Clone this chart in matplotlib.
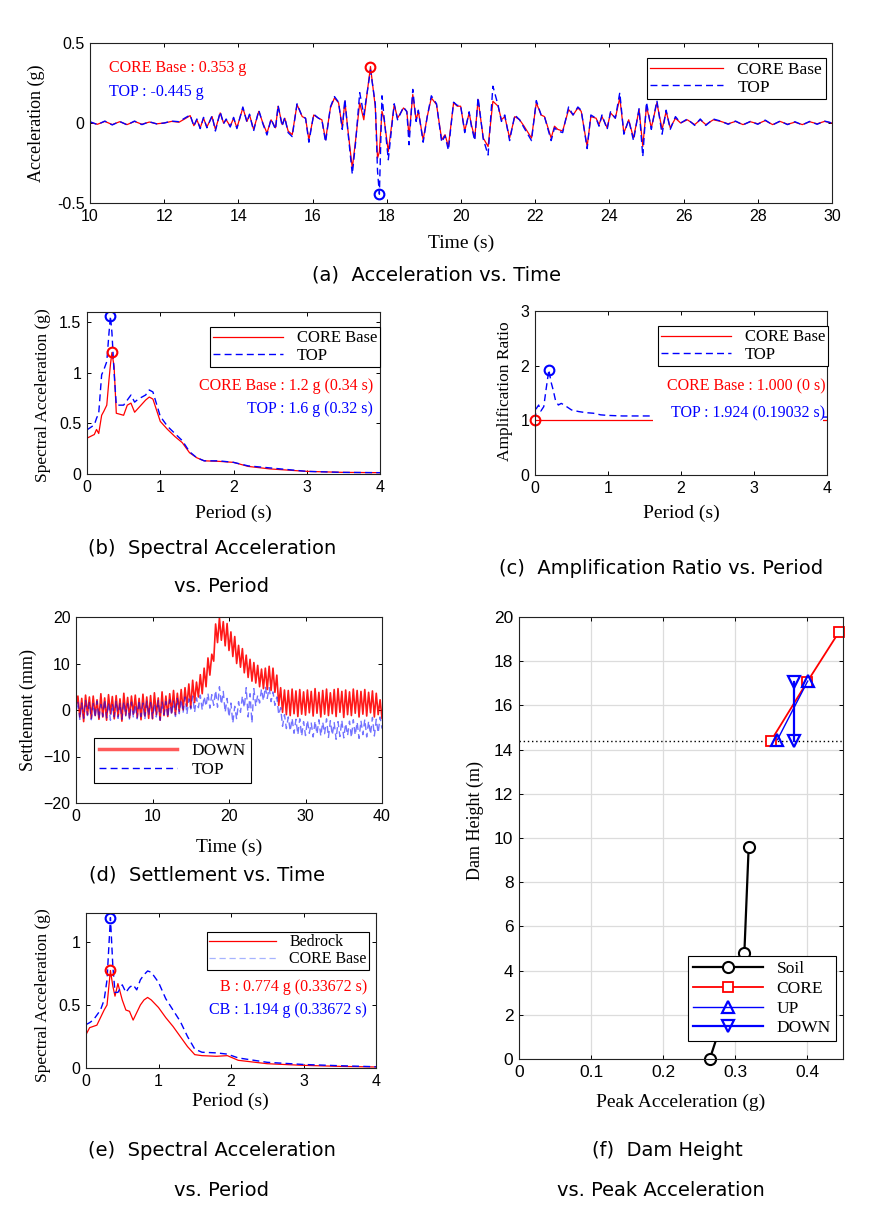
import numpy as np
import matplotlib
matplotlib.use("Agg")
import matplotlib.pyplot as plt
from matplotlib.patches import Rectangle

plt.rcParams["font.family"] = "Liberation Sans"
SERIF = "Liberation Serif"
CAPTION = "DejaVu Sans"

W, H = 872, 1225

# ---------------- (a) acceleration vs time ----------------
acc_time = [10.0, 10.2, 10.4, 10.6, 10.8, 11.0, 11.2, 11.4, 11.6, 11.8,
            12.0, 12.2, 12.4, 12.55, 12.7, 12.8, 12.88, 12.97, 13.06, 13.15,
            13.29, 13.38, 13.51, 13.6, 13.67, 13.78, 13.87, 13.96, 14.12, 14.23,
            14.3, 14.41, 14.55, 14.66, 14.77, 14.88, 15.0, 15.07, 15.18, 15.25,
            15.34, 15.45, 15.58, 15.72, 15.81, 15.9, 16.03, 16.16, 16.25, 16.35,
            16.48, 16.59, 16.7, 16.8, 16.87, 16.95, 17.07, 17.16, 17.27, 17.38,
            17.56, 17.69, 17.75, 17.8, 17.87, 17.93, 18.04, 18.2, 18.29, 18.45,
            18.54, 18.6, 18.7, 18.79, 18.85, 18.98, 19.09, 19.2, 19.34, 19.48,
            19.57, 19.66, 19.8, 19.9, 19.99, 20.1, 20.22, 20.28, 20.37, 20.46,
            20.6, 20.73, 20.86, 21.0, 21.09, 21.18, 21.31, 21.45, 21.58, 21.7,
            21.9, 22.03, 22.16, 22.25, 22.43, 22.52, 22.61, 22.74, 22.9, 23.02,
            23.15, 23.24, 23.4, 23.5, 23.64, 23.72, 23.8, 23.94, 24.03, 24.16,
            24.28, 24.39, 24.52, 24.65, 24.8, 24.9, 25.0, 25.13, 25.28, 25.42,
            25.53, 25.64, 25.78, 25.92, 26.1, 26.3, 26.45, 26.6, 26.8, 27.0,
            27.2, 27.4, 27.6, 27.8, 28.0, 28.2, 28.4, 28.6, 28.8, 29.0,
            29.2, 29.4, 29.6, 29.8, 30.0]
acc_core = [0.005, -0.008, 0.01, -0.01, 0.008, -0.01, 0.01, -0.008, 0.006, -0.005,
            0.0, 0.01, 0.005, 0.025, 0.046, -0.017, 0.02, -0.03, 0.03, -0.025,
            0.04, -0.04, 0.063, 0.0, 0.02, -0.02, 0.03, -0.03, 0.094, 0.01,
            0.05, -0.04, 0.073, 0.0, -0.063, 0.02, -0.03, 0.105, -0.01, 0.03,
            -0.05, -0.073, 0.115, 0.04, 0.03, -0.105, 0.05, 0.03, 0.02, -0.105,
            0.094, 0.157, 0.126, -0.03, 0.136, -0.04, -0.283, -0.105, 0.126, 0.02,
            0.353, 0.10, -0.22, -0.18, 0.073, 0.02, -0.178, 0.115, 0.03, 0.094,
            0.073, -0.084, 0.178, 0.02, 0.073, -0.105, 0.04, 0.157, 0.115, -0.105,
            -0.073, -0.147, 0.126, 0.105, 0.105, -0.05, 0.063, -0.01, -0.094, 0.147,
            -0.094, -0.147, 0.136, 0.105, 0.02, 0.04, -0.094, 0.04, 0.02, -0.02,
            -0.094, 0.126, 0.05, 0.04, -0.094, -0.02, -0.04, -0.05, 0.084, 0.05,
            0.094, 0.073, -0.147, 0.04, 0.03, -0.01, 0.04, -0.03, 0.063, 0.03,
            0.157, -0.063, 0.02, -0.094, 0.084, -0.147, 0.105, -0.03, 0.126, -0.04,
            0.073, -0.03, 0.03, 0.0, 0.02, -0.01, 0.02, -0.01, 0.02, 0.01,
            -0.005, 0.01, -0.01, 0.008, -0.005, 0.015, -0.01, 0.01, -0.008, 0.005,
            -0.01, 0.008, -0.005, 0.01, 0.0]
acc_top = [0.008, -0.01, 0.012, -0.012, 0.01, -0.012, 0.012, -0.01, 0.008, -0.006,
           0.0, 0.012, 0.008, 0.03, 0.05, -0.02, 0.025, -0.035, 0.035, -0.03,
           0.045, -0.05, 0.07, -0.005, 0.025, -0.025, 0.035, -0.035, 0.10, 0.005,
           0.055, -0.05, 0.08, -0.005, -0.075, 0.025, -0.04, 0.11, -0.02, 0.035,
           -0.06, -0.085, 0.12, 0.04, 0.03, -0.12, 0.055, 0.03, 0.02, -0.12,
           0.10, 0.165, 0.13, -0.04, 0.15, -0.05, -0.32, -0.12, 0.19, 0.05,
           0.33, 0.12, -0.30, -0.445, 0.17, 0.03, -0.23, 0.12, 0.02, 0.10,
           0.07, -0.136, 0.21, 0.01, 0.08, -0.12, 0.04, 0.17, 0.12, -0.12,
           -0.08, -0.17, 0.13, 0.11, 0.11, -0.06, 0.07, -0.02, -0.11, 0.16,
           -0.10, -0.20, 0.23, 0.11, 0.01, 0.05, -0.11, 0.05, 0.02, -0.03,
           -0.11, 0.14, 0.05, 0.04, -0.11, -0.03, -0.05, -0.06, 0.10, 0.05,
           0.10, 0.08, -0.16, 0.05, 0.03, -0.02, 0.05, -0.04, 0.07, 0.03,
           0.19, -0.07, 0.02, -0.11, 0.09, -0.21, 0.13, -0.04, 0.14, -0.07,
           0.08, -0.04, 0.04, 0.0, 0.025, -0.015, 0.025, -0.015, 0.025, 0.012,
           -0.008, 0.012, -0.012, 0.01, -0.008, 0.018, -0.012, 0.012, -0.01, 0.008,
           -0.012, 0.01, -0.008, 0.012, 0.0]
acc_peak_core = (17.56, 0.353)
acc_peak_top = (17.8, -0.445)

# ---------------- (b) spectral acceleration, CORE Base / TOP ----------------
sa_period = [0.0, 0.1, 0.13, 0.16, 0.2, 0.23, 0.27, 0.3, 0.32, 0.34,
             0.37, 0.4, 0.45, 0.5, 0.55, 0.6, 0.65, 0.7, 0.8, 0.85,
             0.9, 1.0, 1.1, 1.2, 1.3, 1.4, 1.5, 1.6, 1.8, 2.0,
             2.2, 2.5, 3.0, 3.5, 4.0]
sa_core = [0.354, 0.39, 0.44, 0.40, 0.58, 0.62, 0.68, 0.93, 1.08, 1.20,
           1.06, 0.60, 0.59, 0.58, 0.68, 0.70, 0.61, 0.65, 0.73, 0.76,
           0.74, 0.52, 0.44, 0.37, 0.31, 0.21, 0.16, 0.13, 0.125, 0.115,
           0.075, 0.05, 0.026, 0.016, 0.013]
sa_top = [0.436, 0.485, 0.55, 0.60, 0.98, 1.03, 1.11, 1.39, 1.56, 1.40,
          1.00, 0.68, 0.68, 0.68, 0.73, 0.78, 0.71, 0.74, 0.78, 0.83,
          0.81, 0.57, 0.47, 0.40, 0.33, 0.22, 0.16, 0.13, 0.13, 0.115,
          0.08, 0.06, 0.026, 0.016, 0.013]
sa_peak_core = (0.34, 1.2)
sa_peak_top = (0.32, 1.56)

# ---------------- (c) amplification ratio ----------------
ar_period = [0.0, 0.02, 0.05, 0.08, 0.12, 0.15, 0.19, 0.22, 0.25, 0.28,
             0.32, 0.36, 0.4, 0.5, 0.6, 0.7, 0.8, 0.9, 1.0, 1.2,
             1.4, 1.6, 2.0, 3.0, 4.0]
ar_core = [1.0, 1.0, 1.0, 1.0, 1.0, 1.0, 1.0, 1.0, 1.0, 1.0,
           1.0, 1.0, 1.0, 1.0, 1.0, 1.0, 1.0, 1.0, 1.0, 1.0,
           1.0, 1.0, 1.0, 1.0, 1.0]
ar_top = [1.0, 1.22, 1.28, 1.17, 1.25, 1.55, 1.924, 1.70, 1.55, 1.37,
          1.28, 1.31, 1.28, 1.19, 1.16, 1.14, 1.13, 1.10, 1.09, 1.08,
          1.08, 1.08, 1.07, 1.06, 1.06]
ar_peak_core = (0.0, 1.0)
ar_peak_top = (0.19032, 1.924)

# ---------------- (d) settlement vs time (0.25 s samples) ----------------
set_down = [0.5, 3.0, -1.5, 2.5, -2.5, 3.2, -1.0, 2.8,
            -1.8, 3.0, -1.2, 2.2, -2.0, 3.5, -1.5, 2.6,
            -2.2, 3.3, -0.8, 2.9, -1.9, 3.1, -1.4, 2.4,
            -2.4, 3.6, -1.1, 2.7, -1.7, 3.0, -0.9, 3.2,
            -1.6, 2.5, -2.1, 3.4, -1.3, 2.8, -1.8, 3.1,
            -1.9, 3.7, -1.0, 2.6, -2.2, 3.9, -1.2, 3.0,
            -1.4, 3.5, -0.6, 4.2, -1.0, 3.6, -0.3, 4.4,
            0.0, 4.8, 0.8, 5.6, 0.5, 6.4, 1.6, 6.0,
            2.8, 7.6, 3.5, 9.0, 5.0, 11.2, 7.5, 12.0,
            10.5, 18.5, 14.5, 19.8, 15.0, 19.0, 13.8, 18.6,
            12.8, 16.8, 11.5, 15.8, 10.0, 13.9, 9.2, 13.2,
            8.0, 11.8, 7.0, 10.9, 6.2, 10.2, 5.8, 9.6,
            5.0, 8.8, 4.6, 9.0, 4.4, 9.4, 4.2, 9.0,
            3.8, 7.5, 1.0, 4.8, -0.5, 4.3, -1.0, 4.2,
            -1.2, 4.5, -0.8, 4.1, -1.4, 4.4, -0.9, 3.9,
            -1.1, 4.3, -0.6, 4.0, -1.3, 4.6, -0.7, 3.8,
            -1.5, 4.2, -0.9, 4.5, -1.2, 3.7, -0.8, 4.4,
            -1.4, 4.6, -0.5, 4.0, -1.6, 4.3, -1.0, 3.9,
            -1.2, 4.5, -0.7, 4.2, -1.5, 4.0, -0.9, 4.4,
            -1.3, 3.8, -0.6, 4.1, -1.5, 3.6, -1.0, 2.2,
            -1.8]
set_top = [-0.5, 1.8, -2.0, 1.5, -1.8, 2.0, -1.2, 1.6,
           -2.1, 1.4, -1.6, 1.9, -1.9, 1.2, -1.4, 2.2,
           -1.7, 1.6, -2.2, 1.3, -1.5, 2.0, -1.8, 1.5,
           -2.0, 1.8, -1.3, 1.4, -2.1, 1.7, -1.6, 1.2,
           -1.9, 2.1, -1.4, 1.5, -2.0, 1.9, -1.2, 1.6,
           -1.8, 1.4, -1.5, 2.0, -2.2, 1.7, -1.0, 1.8,
           -1.6, 2.2, -1.1, 1.9, -1.4, 2.5, -0.8, 2.3,
           -0.6, 2.8, -0.9, 2.4, 0.2, 3.0, -0.5, 2.6,
           0.5, 3.2, 0.0, 2.9, 0.8, 3.6, 0.4, 3.3,
           1.0, 4.2, 0.6, 5.0, 1.2, 4.0, -0.5, 2.5,
           -1.5, 1.5, -2.8, 0.8, -2.0, 1.8, -0.5, 3.0,
           0.5, 4.8, -1.5, 3.5, -2.8, 4.6, 0.8, 3.2,
           1.5, 4.5, 2.0, 5.0, 2.5, 4.8, 1.8, 3.9,
           1.0, 2.8, -1.0, 0.5, -3.5, -1.0, -4.0, -1.5,
           -4.5, -1.8, -5.0, -2.0, -5.3, -1.9, -5.6, -2.5,
           -5.5, -2.2, -5.0, -2.8, -5.8, -2.4, -5.2, -2.1,
           -5.6, -2.6, -5.1, -1.9, -5.9, -2.3, -5.4, -2.7,
           -6.3, -2.5, -5.7, -2.2, -6.0, -2.9, -5.5, -2.4,
           -5.9, -2.1, -5.4, -2.6, -6.1, -2.3, -5.3, -2.0,
           -5.8, -2.4, -5.2, -1.6, -5.6, -2.0, -4.9, -1.5,
           -4.0]
set_time = np.arange(len(set_down)) * 0.25  # sampling grid

# ---------------- (e) spectral acceleration, Bedrock / CORE Base ----------------
sb_period = [0.0, 0.05, 0.1, 0.15, 0.2, 0.25, 0.29, 0.337, 0.37, 0.4,
             0.44, 0.5, 0.55, 0.6, 0.65, 0.7, 0.75, 0.8, 0.85, 0.9,
             1.0, 1.1, 1.2, 1.3, 1.4, 1.5, 1.6, 1.8, 1.95, 2.1,
             2.5, 3.0, 3.5, 4.0]
sb_bedrock = [0.265, 0.32, 0.33, 0.34, 0.40, 0.46, 0.50, 0.774, 0.65, 0.57,
              0.67, 0.54, 0.46, 0.45, 0.38, 0.44, 0.50, 0.54, 0.56, 0.54,
              0.48, 0.40, 0.33, 0.25, 0.17, 0.106, 0.098, 0.093, 0.098, 0.061,
              0.034, 0.021, 0.013, 0.008]
sb_core = [0.344, 0.36, 0.38, 0.42, 0.46, 0.54, 0.70, 1.194, 0.81, 0.60,
           0.60, 0.66, 0.60, 0.64, 0.66, 0.62, 0.70, 0.74, 0.77, 0.76,
           0.68, 0.55, 0.46, 0.37, 0.25, 0.15, 0.125, 0.12, 0.11, 0.08,
           0.045, 0.028, 0.018, 0.01]
sb_peak_bed = (0.33672, 0.774)
sb_peak_core = (0.33672, 1.194)

# ---------------- (f) dam height vs peak acceleration ----------------
soil_acc = [0.265, 0.313, 0.319]
soil_h = [0.0, 4.8, 9.6]
core_acc = [0.350, 0.400, 0.444]
core_h = [14.4, 17.05, 19.3]
up_acc = [0.359, 0.401]
up_h = [14.45, 17.1]
down_acc = [0.3815, 0.3815]
down_h = [14.37, 17.04]
water_level = 14.37


def add_axes_px(fig, l, t, r, b):
    return fig.add_axes([l / W, 1 - b / H, (r - l) / W, (b - t) / H])


def ftext(fig, x, y, s, **kw):
    fig.text(x / W, 1 - y / H, s, **kw)


def style(ax, size=11.5):
    ax.tick_params(direction="in", top=True, right=True, length=3,
                   width=0.7, labelsize=size, pad=4)
    for sp in ax.spines.values():
        sp.set_linewidth(0.8)
        sp.set_color("#222222")


def legend_px(ax, fig, x, y, handles, labels, fs=12, **kw):
    leg = ax.legend(handles, labels, loc="upper left",
                    bbox_to_anchor=(x / W, 1 - y / H),
                    bbox_transform=fig.transFigure, borderaxespad=0,
                    fancybox=False, framealpha=1, edgecolor="black",
                    prop={"family": SERIF, "size": fs}, **kw)
    leg.get_frame().set_linewidth(0.8)
    return leg


RED = (1, 0, 0)
BLUE = (0, 0, 1)
DASH = (0, (5, 3))

fig = plt.figure(figsize=(W / 100, H / 100), dpi=100)

# (a)
ax = add_axes_px(fig, 90, 43, 832, 203)
l1, = ax.plot(acc_time, acc_core, color=RED, lw=0.9)
l2, = ax.plot(acc_time, acc_top, color=BLUE, lw=1.0, ls=DASH)
ax.plot(*acc_peak_core, "o", mfc="none", mec=RED, mew=1.5, ms=7)
ax.plot(*acc_peak_top, "o", mfc="none", mec=BLUE, mew=1.5, ms=7)
ax.set_xlim(10, 30)
ax.set_ylim(-0.5, 0.5)
ax.set_xticks(range(10, 31, 2))
ax.set_yticks([-0.5, 0, 0.5], ["-0.5", "0", "0.5"])
style(ax)
legend_px(ax, fig, 647, 58, [l1, l2], ["CORE Base", "TOP"], fs=12.5,
          handlelength=4.2, borderpad=0.2, labelspacing=0.1)
ftext(fig, 109, 68, "CORE Base : 0.353 g", color=RED, family=SERIF,
      fontsize=11.5, va="center")
ftext(fig, 109, 92, "TOP : -0.445 g", color=BLUE, family=SERIF,
      fontsize=11.5, va="center")
ftext(fig, 36, 123, "Acceleration (g)", family=SERIF, fontsize=13,
      rotation=90, ha="center", va="center")
ftext(fig, 461, 243, "Time (s)", family=SERIF, fontsize=14,
      ha="center", va="center")

# (b)
ax = add_axes_px(fig, 87, 312, 380, 474)
l1, = ax.plot(sa_period, sa_core, color=RED, lw=0.9)
l2, = ax.plot(sa_period, sa_top, color=BLUE, lw=1.0, ls=DASH)
ax.plot(*sa_peak_core, "o", mfc="none", mec=RED, mew=1.5, ms=7)
ax.plot(*sa_peak_top, "o", mfc="none", mec=BLUE, mew=1.5, ms=7)
ax.set_xlim(0, 4)
ax.set_ylim(0, 1.6)
ax.set_xticks(range(0, 5))
ax.set_yticks([0, 0.5, 1, 1.5], ["0", "0.5", "1", "1.5"])
style(ax)
legend_px(ax, fig, 210, 327, [l1, l2], ["CORE Base", "TOP"], fs=12,
          handlelength=4.2, borderpad=0.2, labelspacing=0.1)
ftext(fig, 373, 386, "CORE Base : 1.2 g (0.34 s)", color=RED, family=SERIF,
      fontsize=11.5, ha="right", va="center")
ftext(fig, 373, 409, "TOP : 1.6 g (0.32 s)", color=BLUE, family=SERIF,
      fontsize=11.5, ha="right", va="center")
ftext(fig, 43, 395, "Spectral Acceleration (g)", family=SERIF, fontsize=12.5,
      rotation=90, ha="center", va="center")
ftext(fig, 233, 513, "Period (s)", family=SERIF, fontsize=14,
      ha="center", va="center")

# (c)
ax = add_axes_px(fig, 535, 311, 827, 475)
l1, = ax.plot(ar_period, ar_core, color=RED, lw=0.9)
l2, = ax.plot(ar_period, ar_top, color=BLUE, lw=1.0, ls=DASH)
ax.plot(*ar_peak_core, "o", mfc="none", mec=RED, mew=1.5, ms=7, clip_on=False)
ax.plot(*ar_peak_top, "o", mfc="none", mec=BLUE, mew=1.5, ms=7)
ax.set_xlim(0, 4)
ax.set_ylim(0, 3)
ax.set_xticks(range(0, 5))
ax.set_yticks(range(0, 4))
style(ax)
# white background of the annotation block hides the lines beneath it
ax.add_patch(Rectangle((1.62, 0.93), 2.33, 0.95, facecolor="white",
                       edgecolor="none", zorder=4))
legend_px(ax, fig, 658, 326, [l1, l2], ["CORE Base", "TOP"], fs=12,
          handlelength=4.2, borderpad=0.2, labelspacing=0.1)
ax.text(3.98, 1.62, "CORE Base : 1.000 (0 s)", color=RED, family=SERIF,
        fontsize=11.5, ha="right", va="center", zorder=5)
ax.text(3.98, 1.12, "TOP : 1.924 (0.19032 s)", color=BLUE, family=SERIF,
        fontsize=11.5, ha="right", va="center", zorder=5)
ftext(fig, 505, 391, "Amplification Ratio", family=SERIF, fontsize=12.5,
      rotation=90, ha="center", va="center")
ftext(fig, 681, 513, "Period (s)", family=SERIF, fontsize=14,
      ha="center", va="center")

# (d)
ax = add_axes_px(fig, 76, 617, 382, 803)
l1, = ax.plot(set_time, set_down, color=RED, lw=1.2, alpha=0.9)
l2, = ax.plot(set_time, set_top, color=BLUE, lw=1.0, ls=DASH, alpha=0.55)
ax.set_xlim(0, 40)
ax.set_ylim(-20, 20)
ax.set_xticks(range(0, 41, 10))
ax.set_yticks(range(-20, 21, 10))
style(ax)
h1, = ax.plot([], [], color=(1, 0.35, 0.35), lw=2.5)
h2, = ax.plot([], [], color=BLUE, lw=1.0, ls=DASH)
legend_px(ax, fig, 94, 738, [h1, h2], ["DOWN", "TOP"], fs=12.5,
          handlelength=4.5, borderpad=0.3, labelspacing=0.15)
ftext(fig, 28, 710, "Settlement (mm)", family=SERIF, fontsize=13,
      rotation=90, ha="center", va="center")
ftext(fig, 229, 847, "Time (s)", family=SERIF, fontsize=14,
      ha="center", va="center")

# (e)
ax = add_axes_px(fig, 86, 913, 376, 1068)
l1, = ax.plot(sb_period, sb_bedrock, color=RED, lw=0.9)
l2, = ax.plot(sb_period, sb_core, color=BLUE, lw=1.0, ls=DASH)
ax.plot(*sb_peak_bed, "o", mfc="none", mec=RED, mew=1.5, ms=7)
ax.plot(*sb_peak_core, "o", mfc="none", mec=BLUE, mew=1.5, ms=7)
ax.set_xlim(0, 4)
ax.set_ylim(0, 1.23)
ax.set_xticks(range(0, 5))
ax.set_yticks([0, 0.5, 1], ["0", "0.5", "1"])
style(ax)
h2, = ax.plot([], [], color=(0.65, 0.7, 1.0), lw=0.9, ls=DASH)
legend_px(ax, fig, 207, 932, [l1, h2], ["Bedrock", "CORE Base"], fs=11.5,
          handlelength=4.2, borderpad=0.15, labelspacing=0.05)
ftext(fig, 367, 987, "B : 0.774 g (0.33672 s)", color=RED, family=SERIF,
      fontsize=11.5, ha="right", va="center")
ftext(fig, 367, 1010, "CB : 1.194 g (0.33672 s)", color=BLUE, family=SERIF,
      fontsize=11.5, ha="right", va="center")
ftext(fig, 43, 995, "Spectral Acceleration (g)", family=SERIF, fontsize=12.5,
      rotation=90, ha="center", va="center")
ftext(fig, 230, 1101, "Period (s)", family=SERIF, fontsize=14,
      ha="center", va="center")

# (f)
ax = add_axes_px(fig, 519, 617, 843, 1059)
ax.grid(True, color="#dcdcdc", lw=0.9)
ax.set_axisbelow(True)
ax.axhline(water_level, color="black", lw=1.0, ls=(0, (1, 2)))
hs, = ax.plot(soil_acc, soil_h, color="black", lw=1.6, marker="o",
              mfc="white", mec="black", mew=1.5, ms=8, clip_on=False)
hc, = ax.plot(core_acc, core_h, color=RED, lw=1.3, marker="s",
              mfc="white", mec=RED, mew=1.3, ms=6.5, clip_on=False)
hu, = ax.plot(up_acc, up_h, color=BLUE, lw=1.0, marker="^",
              mfc="none", mec=BLUE, mew=1.6, ms=9)
hd, = ax.plot(down_acc, down_h, color=BLUE, lw=1.6, marker="v",
              mfc="none", mec=BLUE, mew=1.6, ms=9)
ax.set_xlim(0, 0.45)
ax.set_ylim(0, 20)
ax.set_xticks([0, 0.1, 0.2, 0.3, 0.4], ["0", "0.1", "0.2", "0.3", "0.4"])
ax.set_yticks(range(0, 21, 2))
style(ax, size=12.5)
legend_px(ax, fig, 688, 956, [hs, hc, hu, hd],
          ["Soil", "CORE", "UP", "DOWN"], fs=12.5,
          handlelength=4.0, borderpad=0.3, labelspacing=0.2)
ftext(fig, 475, 820, "Dam Height (m)", family=SERIF, fontsize=13,
      rotation=90, ha="center", va="center")
ftext(fig, 681, 1102, "Peak Acceleration (g)", family=SERIF, fontsize=14,
      ha="center", va="center")

# captions
cap = dict(family=CAPTION, fontsize=14, ha="center", va="center")
ftext(fig, 436, 275, "(a)  Acceleration vs. Time", **cap)
ftext(fig, 212, 548, "(b)  Spectral Acceleration", **cap)
ftext(fig, 222, 587, "vs. Period", **cap)
ftext(fig, 661, 568, "(c)  Amplification Ratio vs. Period", **cap)
ftext(fig, 207, 875, "(d)  Settlement vs. Time", **cap)
ftext(fig, 212, 1150, "(e)  Spectral Acceleration", **cap)
ftext(fig, 222, 1190, "vs. Period", **cap)
ftext(fig, 667, 1150, "(f)  Dam Height", **cap)
ftext(fig, 661, 1190, "vs. Peak Acceleration", **cap)

fig.savefig("out.png", dpi=100)
